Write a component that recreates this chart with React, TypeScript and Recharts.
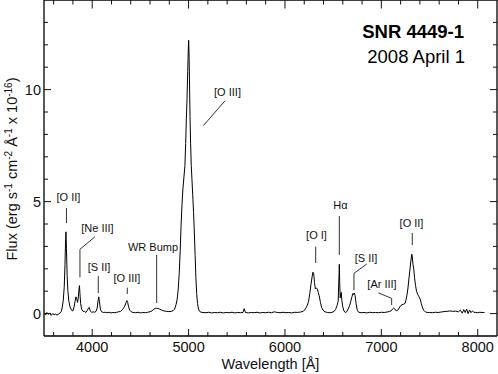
import React from 'react';
import { ComposedChart, Line, XAxis, YAxis, ReferenceLine, ReferenceDot } from 'recharts';

// Wavelength (Å) and flux (1e-16 erg s^-1 cm^-2 Å^-1)
const wavelengths = [
  3500, 3515, 3530, 3545, 3560, 3575, 3590, 3605, 3620, 3635, 3650, 3665, 3680, 3690, 3700, 3710, 3718, 3724, 3728, 3733,
  3740, 3748, 3758, 3770, 3785, 3800, 3812, 3822, 3832, 3840, 3848, 3856, 3863, 3868, 3873, 3880, 3890, 3905, 3920, 3935,
  3950, 3962, 3970, 3980, 3995, 4010, 4025, 4040, 4052, 4062, 4068, 4075, 4085, 4098, 4115, 4135, 4155, 4175, 4195, 4215,
  4235, 4255, 4275, 4295, 4315, 4330, 4342, 4352, 4360, 4368, 4378, 4390, 4405, 4425, 4450, 4475, 4500, 4525, 4550, 4575,
  4600, 4620, 4640, 4660, 4680, 4700, 4720, 4745, 4770, 4795, 4820, 4840, 4855, 4870, 4882, 4893, 4903, 4913, 4922, 4932,
  4942, 4952, 4962, 4970, 4977, 4984, 4991, 4997, 5001, 5005, 5010, 5015, 5021, 5028, 5035, 5043, 5052, 5060, 5068, 5076,
  5084, 5093, 5103, 5115, 5130, 5150, 5180, 5210, 5240, 5270, 5300, 5330, 5360, 5390, 5420, 5450, 5480, 5510, 5540, 5565,
  5577, 5590, 5620, 5650, 5680, 5710, 5740, 5770, 5800, 5830, 5860, 5890, 5920, 5950, 5980, 6010, 6040, 6070, 6100, 6130,
  6160, 6190, 6210, 6230, 6245, 6258, 6270, 6280, 6290, 6298, 6306, 6315, 6325, 6335, 6345, 6355, 6368, 6380, 6395, 6415,
  6440, 6465, 6490, 6510, 6525, 6540, 6552, 6560, 6564, 6568, 6573, 6580, 6585, 6590, 6600, 6612, 6625, 6640, 6655, 6670,
  6683, 6695, 6705, 6712, 6720, 6728, 6738, 6750, 6765, 6790, 6820, 6850, 6880, 6910, 6940, 6970, 7000, 7030, 7060, 7085,
  7100, 7115, 7128, 7140, 7155, 7170, 7185, 7200, 7215, 7230, 7245, 7255, 7265, 7275, 7285, 7295, 7305, 7315, 7320, 7328,
  7336, 7345, 7355, 7365, 7378, 7390, 7403, 7415, 7428, 7440, 7455, 7475, 7500, 7530, 7560, 7590, 7620, 7650, 7680, 7710,
  7740, 7770, 7800, 7820, 7840, 7855, 7870, 7885, 7900, 7915, 7930, 7945, 7960, 7980, 8000, 8020, 8045, 8070,
];
const fluxes = [
  0.02, -0.06, 0.05, -0.04, 0.03, -0.08, 0.0, -0.05, -0.02, -0.07, -0.03, 0.02, 0.1, 0.3, 0.6, 1.2, 2.2, 3.3, 3.65, 2.9,
  1.7, 1.0, 0.55, 0.3, 0.15, 0.12, 0.3, 0.55, 0.75, 0.65, 0.5, 0.7, 1.1, 1.25, 0.9, 0.45, 0.2, 0.1, 0.1, 0.05,
  0.15, 0.25, 0.28, 0.12, 0.05, 0.08, 0.06, 0.1, 0.25, 0.6, 0.75, 0.55, 0.2, 0.08, 0.05, 0.06, 0.04, 0.06, 0.03, 0.05,
  0.04, 0.06, 0.08, 0.1, 0.18, 0.28, 0.38, 0.5, 0.58, 0.5, 0.3, 0.15, 0.08, 0.05, 0.04, 0.06, 0.03, 0.05, 0.04, 0.06,
  0.08, 0.12, 0.2, 0.24, 0.23, 0.2, 0.16, 0.12, 0.1, 0.09, 0.1, 0.13, 0.2, 0.4, 0.65, 1.1, 1.8, 2.8, 3.9, 4.9,
  5.6, 6.1, 6.6, 7.6, 8.7, 9.6, 10.8, 11.8, 12.2, 11.6, 10.2, 8.8, 7.6, 6.6, 6.0, 5.3, 4.5, 3.6, 2.6, 1.6,
  0.9, 0.45, 0.2, 0.1, 0.06, 0.05, 0.04, 0.06, 0.03, 0.05, 0.04, 0.06, 0.03, 0.05, 0.04, 0.06, 0.03, 0.05, 0.04, 0.05,
  0.22, 0.05, 0.03, 0.05, 0.04, 0.06, 0.03, 0.05, 0.04, 0.06, 0.04, 0.08, 0.05, 0.04, 0.06, 0.04, 0.05, 0.03, 0.06, 0.05,
  0.07, 0.1, 0.2, 0.35, 0.55, 0.9, 1.3, 1.6, 1.85, 1.8, 1.4, 1.1, 1.15, 1.1, 0.95, 0.8, 0.5, 0.28, 0.15, 0.08,
  0.05, 0.04, 0.06, 0.1, 0.18, 0.35, 0.55, 1.6, 2.2, 1.4, 0.7, 0.9, 0.95, 0.6, 0.3, 0.12, 0.05, 0.08, 0.2, 0.35,
  0.55, 0.75, 0.9, 0.85, 0.92, 0.8, 0.45, 0.15, 0.06, 0.04, 0.05, 0.03, 0.06, 0.04, 0.05, 0.04, 0.06, 0.05, 0.07, 0.1,
  0.12, 0.2, 0.25, 0.2, 0.12, 0.15, 0.25, 0.35, 0.4, 0.42, 0.45, 0.6, 0.8, 1.1, 1.5, 1.9, 2.3, 2.65, 2.6, 2.2,
  2.0, 1.6, 1.25, 1.0, 0.85, 0.75, 0.65, 0.45, 0.25, 0.15, 0.08, 0.05, 0.05, 0.04, 0.06, 0.05, 0.07, 0.09, 0.1, 0.12,
  0.1, 0.11, 0.08, 0.15, 0.02, 0.18, 0.05, 0.2, 0.0, 0.16, 0.04, 0.12, 0.06, 0.05, 0.04, 0.06, 0.05, 0.05,
];

const xTicks = [3600, 3800, 4000, 4200, 4400, 4600, 4800, 5000, 5200, 5400, 5600, 5800, 6000, 6200, 6400, 6600, 6800, 7000, 7200, 7400, 7600, 7800, 8000];
const xLabelTicks = [4000, 5000, 6000, 7000, 8000];
const yTicks = [0, 1, 2, 3, 4, 5, 6, 7, 8, 9, 10, 11, 12, 13];
const yLabelTicks = [0, 5, 10];
const X_DOMAIN = [3500, 8200];
const Y_DOMAIN = [-1, 14];

// Line identifications: label position (Å, flux) and pointer path
const annotations = [
  { text: '[O III]', lx: 5404, ly: 9.89, path: [[5378, 9.5], [5153, 8.39]] },
  { text: '[O II]', lx: 3754, ly: 5.2, path: [[3733, 4.71], [3733, 4.04]] },
  { text: '[Ne III]', lx: 4055, ly: 3.82, path: [[4029, 3.43], [3873, 2.87], [3873, 1.62]] },
  { text: '[S II]', lx: 4071, ly: 2.08, path: [[4063, 1.68], [4063, 0.92]] },
  { text: '[O III]', lx: 4361, ly: 1.59, path: [[4364, 1.16], [4364, 0.875]] },
  { text: 'WR Bump', lx: 4631, ly: 2.99, path: [[4669, 2.62], [4669, 0.47]] },
  { text: '[O I]', lx: 6327, ly: 3.51, path: [[6319, 2.99], [6319, 2.26]] },
  { text: 'Hα', lx: 6576, ly: 4.85, path: [[6564, 4.36], [6564, 2.62]] },
  { text: '[S II]', lx: 6841, ly: 2.48, path: [[6848, 2.21], [6716, 1.8], [6716, 1.05]] },
  { text: '[Ar III]', lx: 7007, ly: 1.31, path: [[6968, 0.93], [7107, 0.68], [7107, 0.38]] },
  { text: '[O II]', lx: 7313, ly: 4.04, path: [[7321, 3.6], [7321, 3.06]] },
];

const FONT = '"Liberation Sans", Arial, Helvetica, sans-serif';
const INK = '#111';
// plot-area size in pixels (used to mirror ticks onto the top and right frame edges)
const PLOT_W = 453;
const PLOT_H = 336;

const data = wavelengths.map((wl, i) => ({ wl, flux: fluxes[i] }));

const BottomTick = (props: any) => {
  const { x, y, payload } = props;
  const v = payload.value;
  const major = xLabelTicks.includes(v);
  const yTop = y - PLOT_H;
  return (
    <g>
      <line x1={x} x2={x} y1={y} y2={y - (major ? 7 : 4)} stroke={INK} strokeWidth={1} />
      <line x1={x} x2={x} y1={yTop} y2={yTop + (major ? 8.5 : 4.5)} stroke={INK} strokeWidth={1} />
      {major && (
        <text x={x} y={y + 16} textAnchor="middle" fontSize={14.5} fontFamily={FONT} fill={INK}>
          {v}
        </text>
      )}
    </g>
  );
};
const LeftTick = (props: any) => {
  const { x, y, payload } = props;
  const v = payload.value;
  const major = yLabelTicks.includes(v);
  const xRight = x + PLOT_W;
  return (
    <g>
      <line x1={x} x2={x + (major ? 7 : 4)} y1={y} y2={y} stroke={INK} strokeWidth={1} />
      <line x1={xRight} x2={xRight - (major ? 7 : 4)} y1={y} y2={y} stroke={INK} strokeWidth={1} />
      {major && (
        <text x={x - 3} y={y + 5} textAnchor="end" fontSize={14.5} fontFamily={FONT} fill={INK}>
          {v}
        </text>
      )}
    </g>
  );
};

export default function App() {
  return (
    <div style={{ position: 'absolute', left: 0, top: 0, width: 498, height: 374, background: '#fff' }}>
      <ComposedChart width={498} height={374} data={data} margin={{ top: 0, right: 1, bottom: 0, left: 0 }}>
        <XAxis
          dataKey="wl"
          type="number"
          domain={X_DOMAIN}
          ticks={xTicks}
          interval={0}
          allowDataOverflow
          height={38}
          tickSize={0}
          tickMargin={0}
          tick={<BottomTick />}
          axisLine={{ stroke: '#000', strokeWidth: 1.3 }}
          label={{ value: 'Wavelength [Å]', position: 'insideBottom', offset: 5, fontSize: 14.5, fontFamily: FONT, fill: INK }}
        />
        <YAxis
          type="number"
          domain={Y_DOMAIN}
          ticks={yTicks}
          interval={0}
          allowDataOverflow
          width={44}
          tickSize={0}
          tickMargin={0}
          tick={<LeftTick />}
          axisLine={{ stroke: '#000', strokeWidth: 1.3 }}
        />
        <ReferenceLine y={Y_DOMAIN[1]} stroke="#000" strokeWidth={1.3} />
        <ReferenceLine x={X_DOMAIN[1]} stroke="#000" strokeWidth={1.3} />
        <Line
          dataKey="flux"
          type="linear"
          stroke="#000"
          strokeWidth={1}
          dot={false}
          isAnimationActive={false}
        />
        {annotations.flatMap((a, i) =>
          a.path.slice(1).map((p, j) => (
            <ReferenceLine
              key={`seg-${i}-${j}`}
              segment={[
                { x: a.path[j][0], y: a.path[j][1] },
                { x: p[0], y: p[1] },
              ]}
              stroke="#333"
              strokeWidth={1}
            />
          ))
        )}
        {annotations.map((a, i) => (
          <ReferenceDot
            key={`lab-${i}`}
            x={a.lx}
            y={a.ly}
            r={0}
            stroke="none"
            fill="none"
            label={{ value: a.text, position: 'center', fontSize: 11, fontFamily: FONT, fill: INK }}
          />
        ))}
      </ComposedChart>
      <svg width={498} height={374} style={{ position: 'absolute', left: 0, top: 0, pointerEvents: 'none' }}>
        <text x={464} y={38} textAnchor="end" fontSize={18.5} fontWeight="bold" fontFamily={FONT} fill="#000">
          SNR 4449-1
        </text>
        <text x={465} y={63} textAnchor="end" fontSize={18.5} fontFamily={FONT} fill="#000">
          2008 April 1
        </text>
        <text
          transform="translate(17,169) rotate(-90)"
          textAnchor="middle"
          fontSize={14.5}
          fontFamily={FONT}
          fill={INK}
        >
          Flux (erg s
          <tspan dy={-5} fontSize={10}>-1</tspan>
          <tspan dy={5}> cm</tspan>
          <tspan dy={-5} fontSize={10}>-2</tspan>
          <tspan dy={5}> Å</tspan>
          <tspan dy={-5} fontSize={10}>-1</tspan>
          <tspan dy={5}> x 10</tspan>
          <tspan dy={-5} fontSize={10}>-16</tspan>
          <tspan dy={5}>)</tspan>
        </text>
      </svg>
    </div>
  );
}
